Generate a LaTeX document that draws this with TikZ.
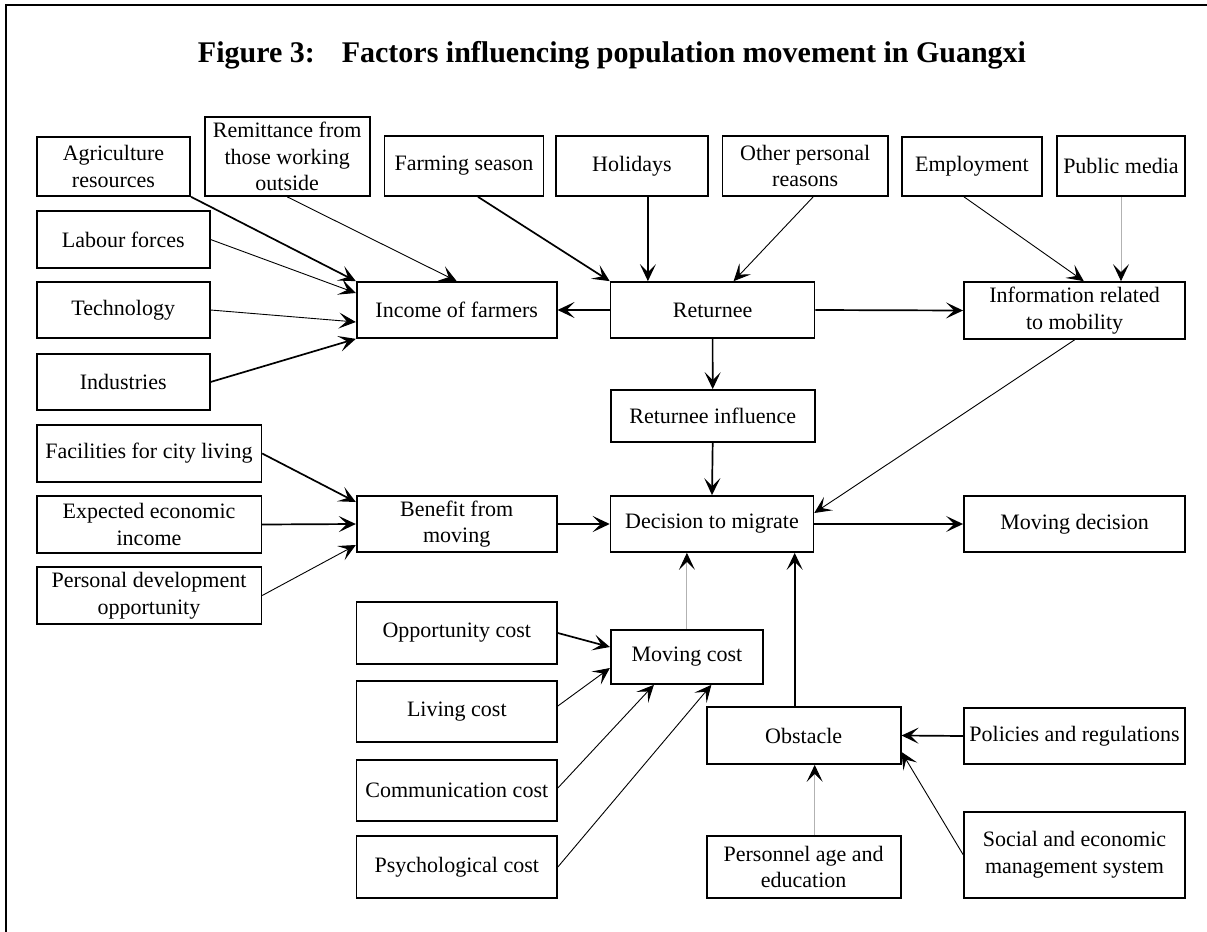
\documentclass[tikz,border=0pt]{standalone}
\usepackage{fontspec}
\setmainfont{Liberation Serif}
\usepackage{tikz}
\usetikzlibrary{positioning, calc, arrows.meta}
\tikzstyle{Arrow} = [
%Custom arrow style:
line width = 0.85pt,
-{Stealth[length=8.5pt, width=8pt, inset=4pt, color=black]}
]
\tikzstyle{ThinArrow} = [Arrow, line width = 0.45pt]
\tikzstyle{GreyArrow} = [Arrow, line width = 0.45pt, draw = black!30]

\begin{document}
\begin{tikzpicture}[
			x = 0.5pt, y = -0.5pt,
			box/.style = {rectangle, draw, line width = 0.85pt, align = center, inner sep = 1pt,
				font = \fontsize{11}{13.3}\selectfont},
			frame/.style = {line width = 1pt},
		]
		\useasboundingbox (0,0) rectangle (1207,932);
		\draw[frame] (1207,5) -- (6,5) -- (6,932);

		\node[anchor = base, font = \fontsize{15}{18}\selectfont\bfseries](title) at (612,62)
			{Figure 3:\hspace{0.9em}Factors influencing population movement in Guangxi};

		% top row
		\node[box, minimum width = 76.75pt, minimum height = 29.5pt](Agri) at (113.5,166.5){Agriculture\\resources};
		\node[box, minimum width = 82.5pt, minimum height = 39.5pt](Remit) at (287.2,156.5){Remittance from\\those working\\outside};
		\node[box, minimum width = 79.4pt, minimum height = 30pt](Farm) at (464,166){Farming season};
		\node[box, minimum width = 75.75pt, minimum height = 30pt](Hol) at (631.9,166){Holidays};
		\node[box, minimum width = 82.85pt, minimum height = 30pt](Other) at (805.2,166){Other personal\\reasons};
		\node[box, minimum width = 70pt, minimum height = 29.5pt](Empl) at (972,166.5){Employment};
		\node[box, minimum width = 64.25pt, minimum height = 30pt](Media) at (1121,166){Public media};

		% left column
		\node[box, minimum width = 86.5pt, minimum height = 28.5pt](Labour) at (123.2,239.5){Labour forces};
		\node[box, minimum width = 86.5pt, minimum height = 28pt](Tech) at (123.2,310){Technology};
		\node[box, minimum width = 86.5pt, minimum height = 28pt](Ind) at (123.2,382){Industries};
		\node[box, minimum width = 112.35pt, minimum height = 28.5pt](Fac) at (149,453.5){Facilities for city living};
		\node[box, minimum width = 112.35pt, minimum height = 28.5pt](Exp) at (149,524.5){Expected economic\\income};
		\node[box, minimum width = 112.35pt, minimum height = 28.5pt](Pers) at (149,595.5){Personal development\\opportunity};

		% middle
		\node[box, minimum width = 100pt, minimum height = 28pt](Income) at (456.7,310){Income of farmers};
		\node[box, minimum width = 102pt, minimum height = 28pt](Ret) at (712.6,310){Returnee};
		\node[box, minimum width = 110.7pt, minimum height = 28.5pt](Info) at (1074.6,310.5){Information related\\to mobility};
		\node[box, minimum width = 102pt, minimum height = 26pt](RetInf) at (712.7,416){Returnee influence};
		\node[box, minimum width = 100pt, minimum height = 28pt](Ben) at (456.7,524){Benefit from\\moving};
		\node[box, minimum width = 101.4pt, minimum height = 28pt](Dec) at (712,524){Decision to migrate};
		\node[box, minimum width = 110.7pt, minimum height = 28pt](MovDec) at (1074.6,524){Moving decision};

		% costs
		\node[box, minimum width = 100.2pt, minimum height = 31pt](Opp) at (456.8,633){Opportunity cost};
		\node[box, minimum width = 100.2pt, minimum height = 30.5pt](Live) at (456.8,711.5){Living cost};
		\node[box, minimum width = 100.2pt, minimum height = 30.5pt](Comm) at (456.8,790.5){Communication cost};
		\node[box, minimum width = 100.2pt, minimum height = 31pt](Psych) at (456.8,867){Psychological cost};
		\node[box, minimum width = 76.15pt, minimum height = 27pt](MovCost) at (686.9,657){Moving cost};

		% obstacles
		\node[box, minimum width = 97pt, minimum height = 28.5pt](Obst) at (803.7,735.5){Obstacle};
		\node[box, minimum width = 97pt, minimum height = 31pt](Age) at (803.7,867){Personnel age and\\education};
		\node[box, minimum width = 110.5pt, minimum height = 28pt](Pol) at (1074.5,736){Policies and regulations};
		\node[box, minimum width = 110.5pt, minimum height = 43pt](Soc) at (1074.5,854.7){Social and economic\\management system};

		% into income of farmers
		\draw[Arrow](Agri.south east)--(Income.north west);
		\draw[ThinArrow](Remit.south)--(Income.north);
		\draw[ThinArrow](Labour.east)--([yshift=8.5pt]Income.west);
		\draw[ThinArrow](Tech.east)--([yshift=-6pt]Income.west);
		\draw[Arrow](Ind.east)--(Income.south west);

		% into returnee
		\draw[Arrow]([xshift=7pt]Farm.south)--(Ret.north west);
		\draw[Arrow]([xshift=8pt]Hol.south)--([xshift=8pt]Hol.south |- Ret.north);
		\draw[ThinArrow]([xshift=4pt]Other.south)--([xshift=10.5pt]Ret.north);

		% into information
		\draw[ThinArrow]([xshift=-4pt]Empl.south)--([xshift=4.6pt]Info.north);
		\draw[GreyArrow](Media.south)--(Media.south |- Info.north);

		\draw[Arrow](Ret.west)--(Income.east);
		\draw[Arrow](Ret.east)--(Info.west);
		\draw[Arrow](Ret.south)--(RetInf.north);
		\draw[Arrow](RetInf.south)--(Dec.north);
		\draw[ThinArrow](Info.south)--([yshift=5.5pt]Dec.east);
		\draw[Arrow](Dec.east)--(MovDec.west);
		\draw[Arrow](Ben.east)--(Dec.west);

		% into benefit
		\draw[Arrow](Fac.east)--([yshift=11pt]Ben.west);
		\draw[Arrow](Exp.east)--(Ben.west);
		\draw[ThinArrow](Pers.east)--([yshift=-10.5pt]Ben.west);

		% into decision from below
		\draw[GreyArrow](MovCost.north)--(MovCost.north |- Dec.south);
		\draw[Arrow]([xshift=-4.5pt]Obst.north)--([xshift=-4.5pt]Obst.north |- Dec.south);

		% into moving cost
		\draw[Arrow](Opp.east)--([yshift=5pt]MovCost.west);
		\draw[ThinArrow]([yshift=2.75pt]Live.east)--([yshift=-5.5pt]MovCost.west);
		\draw[ThinArrow]([yshift=1.25pt]Comm.east)--([xshift=-16.5pt]MovCost.south);
		\draw[ThinArrow](Psych.east)--([xshift=12.25pt]MovCost.south);

		% into obstacle
		\draw[GreyArrow]([xshift=5.5pt]Age.north)--([xshift=5.5pt]Age.north |- Obst.south);
		\draw[Arrow](Pol.west)--(Obst.east);
		\draw[ThinArrow](Soc.west)--([yshift=-8.25pt]Obst.east);

	\end{tikzpicture}
\end{document}
